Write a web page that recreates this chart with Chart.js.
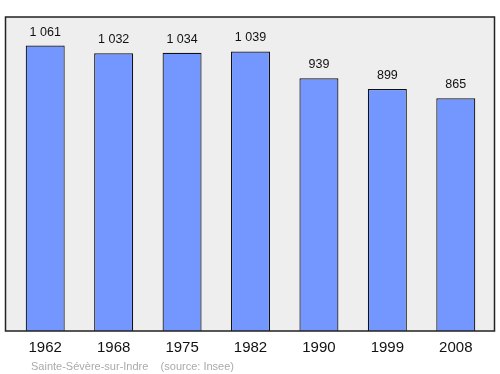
<!DOCTYPE html>
<html>
<head>
<meta charset="utf-8">
<script src="https://cdn.jsdelivr.net/npm/chart.js@4.4.1/dist/chart.umd.min.js"></script>
<style>
  html, body { margin: 0; padding: 0; background: #ffffff; }
  #wrap { width: 500px; height: 374px; }
</style>
</head>
<body>
<div id="wrap"><canvas id="popChart" width="500" height="374"></canvas></div>
<script>
const years = ['1962', '1968', '1975', '1982', '1990', '1999', '2008'];
const population = [1061, 1032, 1034, 1039, 939, 899, 865];
const caption = 'Sainte-Sévère-sur-Indre    (source: Insee)';

function formatNumber(v) {
    return String(v).replace(/\B(?=(\d{3})+(?!\d))/g, ' ');
}

// gray plot frame, value labels and caption
const framePlugin = {
    id: 'frame',
    beforeDatasetsDraw(chart) {
        const { ctx, chartArea } = chart;
        ctx.save();
        ctx.fillStyle = '#eeeeee';
        ctx.fillRect(5.5, chartArea.top, 489, chartArea.bottom - chartArea.top);
        ctx.restore();
    },
    afterDatasetsDraw(chart) {
        const { ctx, chartArea } = chart;
        ctx.save();
        ctx.strokeStyle = '#222222';
        ctx.lineWidth = 1.5;
        ctx.strokeRect(5.5, chartArea.top, 489, chartArea.bottom - chartArea.top);

        ctx.fillStyle = '#111111';
        ctx.font = '12.5px "Liberation Sans", Arial, sans-serif';
        ctx.textAlign = 'center';
        ctx.textBaseline = 'alphabetic';
        const meta = chart.getDatasetMeta(0);
        meta.data.forEach(function (bar, i) {
            ctx.fillText(formatNumber(population[i]), bar.x, bar.y - 10);
        });

        ctx.fillStyle = '#aaaaaa';
        ctx.font = '11px "Liberation Sans", Arial, sans-serif';
        ctx.textAlign = 'left';
        ctx.fillText(caption, 31, 370);
        ctx.restore();
    }
};

new Chart(document.getElementById('popChart').getContext('2d'), {
    type: 'bar',
    data: {
        labels: years,
        datasets: [{
            data: population,
            backgroundColor: '#7396ff',
            borderColor: '#111111',
            borderWidth: 1.2,
            borderSkipped: 'bottom',
            barPercentage: 0.57,
            categoryPercentage: 1
        }]
    },
    options: {
        responsive: false,
        animation: false,
        layout: {
            padding: { left: 11, right: 10, top: 17, bottom: 17 }
        },
        plugins: {
            legend: { display: false },
            tooltip: { enabled: false }
        },
        scales: {
            x: {
                grid: { display: false },
                border: { display: false },
                ticks: {
                    color: '#111111',
                    font: { family: '"Liberation Sans", Arial, sans-serif', size: 15 },
                    padding: 0
                }
            },
            y: {
                display: false,
                min: 0,
                max: 1167
            }
        }
    },
    plugins: [framePlugin]
});
</script>
</body>
</html>
